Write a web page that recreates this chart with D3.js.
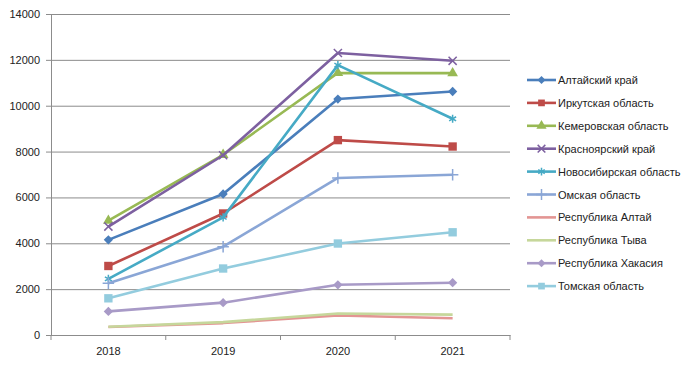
<!DOCTYPE html>
<html lang="ru">
<head>
<meta charset="UTF-8">
<title>Регионы 2018-2021</title>
<script src="https://cdn.jsdelivr.net/npm/d3@7"></script>
<style>
  body { margin: 0; background: #fff; }
  text { font-family: "Liberation Sans", Arial, sans-serif; fill: #222; }
</style>
</head>
<body>
<div id="chart"></div>
<script>
// данные
var years = ["2018", "2019", "2020", "2021"];
var yTicks = [0, 2000, 4000, 6000, 8000, 10000, 12000, 14000];
var names = ["Алтайский край", "Иркутская область", "Кемеровская область", "Красноярский край",
             "Новосибирская область", "Омская область", "Республика Алтай", "Республика Тыва",
             "Республика Хакасия", "Томская область"];
var altaiKrai   = [4150, 6150, 10290, 10620];
var irkutsk     = [3010, 5300, 8500, 8220];
var kemerovo    = [4990, 7860, 11430, 11420];
var krasnoyarsk = [4730, 7840, 12300, 11960];
var novosib     = [2450, 5130, 11770, 9430];
var omsk        = [2260, 3850, 6850, 6990];
var respAltai   = [350, 520, 850, 730];
var tyva        = [360, 560, 940, 890];
var khakasia    = [1030, 1410, 2190, 2280];
var tomsk       = [1600, 2900, 3990, 4480];

var values = [altaiKrai, irkutsk, kemerovo, krasnoyarsk, novosib, omsk, respAltai, tyva, khakasia, tomsk];
var colors = ["#4A7EBB", "#BE4B48", "#98B954", "#7D60A0", "#46AAC5", "#8AA6D6", "#E39593", "#C6D79B", "#A89AC7", "#93CCDE"];
var markers = [d3.symbolDiamond2, d3.symbolSquare, d3.symbolTriangle, d3.symbolTimes, d3.symbolAsterisk,
               d3.symbolPlus, null, null, d3.symbolDiamond2, d3.symbolSquare];
var strokeMarker = [false, false, false, true, true, true, false, false, false, false];

var width = 687, height = 367,
    margin = {top: 14, right: 177, bottom: 32, left: 51};

var svg = d3.select("#chart").append("svg")
    .attr("width", width).attr("height", height);

var x = d3.scaleBand().domain(years).range([margin.left, width - margin.right]);
var y = d3.scaleLinear().domain([0, 14000]).range([height - margin.bottom, margin.top]);

// сетка
svg.append("g")
    .attr("transform", "translate(" + margin.left + ",0)")
    .call(d3.axisLeft(y).tickValues(yTicks).tickSize(-(width - margin.right - margin.left)).tickFormat(""))
    .call(function(g){ g.select(".domain").remove(); })
    .selectAll("line").attr("stroke", "#8c8c8c");

// ось Y
var yAxis = svg.append("g")
    .attr("transform", "translate(" + margin.left + ",0)")
    .call(d3.axisLeft(y).tickValues(yTicks).tickSize(5).tickSizeOuter(0).tickPadding(6).tickFormat(d3.format("d")));
yAxis.select(".domain").attr("stroke", "#8c8c8c");
yAxis.selectAll("line").attr("stroke", "#8c8c8c");
yAxis.selectAll("text").style("font-size", "11px");

// ось X
var xAxis = svg.append("g")
    .attr("transform", "translate(0," + (height - margin.bottom) + ")")
    .call(d3.axisBottom(x).tickSize(0).tickPadding(12));
xAxis.select(".domain").attr("stroke", "#8c8c8c");
xAxis.selectAll("text").style("font-size", "11px");
// деления между категориями
xAxis.selectAll(".sep").data(d3.range(years.length + 1)).enter().append("line")
    .attr("x1", function(i){ return margin.left + i * x.bandwidth(); })
    .attr("x2", function(i){ return margin.left + i * x.bandwidth(); })
    .attr("y1", 0).attr("y2", 5).attr("stroke", "#8c8c8c");

var cx = function(d, i){ return x(years[i]) + x.bandwidth() / 2; };
var line = d3.line().x(cx).y(function(d){ return y(d); });

function markerSize(s, legendMode) {
    if (strokeMarker[s]) return legendMode ? 40 : 45;
    if (markers[s] === d3.symbolSquare) return legendMode ? 45 : 70;
    if (markers[s] === d3.symbolDiamond2) return legendMode ? 40 : 55;
    return legendMode ? 45 : 50;
}

values.forEach(function(vals, s) {
    var g = svg.append("g");
    g.append("path").attr("d", line(vals))
        .attr("fill", "none").attr("stroke", colors[s]).attr("stroke-width", 2.6)
        .attr("stroke-linejoin", "round");
    if (markers[s]) {
        var sym = d3.symbol().type(markers[s]).size(markerSize(s, false));
        g.selectAll("path.m").data(vals).enter().append("path")
            .attr("class", "m")
            .attr("d", sym)
            .attr("transform", function(d, i){ return "translate(" + cx(d, i) + "," + y(d) + ")"; })
            .attr("fill", strokeMarker[s] ? "none" : colors[s])
            .attr("stroke", colors[s])
            .attr("stroke-width", strokeMarker[s] ? 1.5 : 0);
    }
});

// легенда
var legend = svg.append("g").attr("transform", "translate(527,80)");
names.forEach(function(n, s) {
    var row = legend.append("g").attr("transform", "translate(0," + (s * 22.9) + ")");
    row.append("line").attr("x1", 0).attr("x2", 29).attr("y1", 0).attr("y2", 0)
        .attr("stroke", colors[s]).attr("stroke-width", 2.6);
    if (markers[s]) {
        row.append("path")
            .attr("d", d3.symbol().type(markers[s]).size(markerSize(s, true)))
            .attr("transform", "translate(14.5,0)")
            .attr("fill", strokeMarker[s] ? "none" : colors[s])
            .attr("stroke", colors[s])
            .attr("stroke-width", strokeMarker[s] ? 1.5 : 0);
    }
    row.append("text").attr("x", 31).attr("y", 4).style("font-size", "11px").text(n);
});
</script>
</body>
</html>
